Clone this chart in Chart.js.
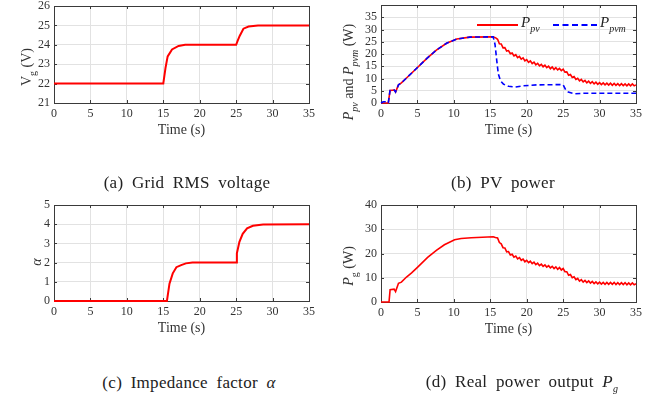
<!DOCTYPE html>
<html>
<head>
<meta charset="utf-8">
<script src="https://cdn.jsdelivr.net/npm/chart.js@4.4.1/dist/chart.umd.min.js"></script>
<style>
  body { margin:0; background:#fff; width:661px; height:401px; position:relative; overflow:hidden; font-family:"Liberation Serif", "Times New Roman", Times, serif; color:#222; }
  canvas { position:absolute; }
  .lbl { position:absolute; white-space:nowrap; font-size:14px; color:#333; transform:translate(-50%,-50%) rotate(-90deg); }
  .cap { position:absolute; white-space:nowrap; font-size:17px; transform:translate(-50%,-50%); word-spacing:4px; letter-spacing:0.3px; }
  .leg { position:absolute; white-space:nowrap; font-size:15px; color:#222; }
  .sw { position:absolute; height:0; }
  sub { font-size:10px; vertical-align:-5px; }
</style>
</head>
<body>
<canvas id="chart-a"></canvas>
<canvas id="chart-b"></canvas>
<canvas id="chart-c"></canvas>
<canvas id="chart-d"></canvas>

<!-- 축 제목 (아래첨자 때문에 HTML로) -->
<div class="lbl" style="left:28px;top:67px">V<sub>g</sub> (V)</div>
<div class="lbl" style="left:350px;top:72px"><i>P</i><sub><i>pv</i></sub> and <i>P</i><sub><i>pvm</i></sub> (W)</div>
<div class="lbl" style="left:37px;top:262px"><i>α</i></div>
<div class="lbl" style="left:350px;top:266px"><i>P</i><sub>g</sub> (W)</div>

<!-- (b) 범례 -->
<div class="sw" style="left:477px;top:24px;width:41px;border-top:2px solid #ff0000"></div>
<div class="leg" style="left:521px;top:14px"><i>P</i><sub><i>pv</i></sub></div>
<div class="sw" style="left:553px;top:24px;width:44px;border-top:2px dashed #0000ff"></div>
<div class="leg" style="left:600px;top:14px"><i>P</i><sub><i>pvm</i></sub></div>

<!-- 캡션 -->
<div class="cap" style="left:187px;top:183px">(a) Grid RMS voltage</div>
<div class="cap" style="left:503px;top:183px">(b) PV power</div>
<div class="cap" style="left:189px;top:383px">(c) Impedance factor <i>α</i></div>
<div class="cap" style="left:522px;top:383px">(d) Real power output <i>P</i><sub><i>g</i></sub></div>

<script>
// 그림에서 읽은 값들

// (a) 계통 RMS 전압
const vgTime = [0, 15, 15.3, 15.6, 16.2, 17.1, 18, 25, 25.2, 25.5, 26, 26.7, 28, 35];
const vgVal  = [22, 22, 22.8, 23.4, 23.76, 23.94, 24, 24, 24.2, 24.47, 24.83, 24.94, 25, 25];

// (b) PV 출력 (16초 이후는 리플 포함)
const ppvTime = [0, 1.0, 1.24, 1.83, 2.0, 2.4, 2.8, 3.5, 4.9, 6.3, 7.6, 9.0, 10.4, 12.2, 15.4, 15.75,
  16, 16.25, 16.5, 16.75, 17, 17.25, 17.5, 17.75, 18, 18.25, 18.5, 18.75, 19, 19.25, 19.5, 19.75,
  20, 20.25, 20.5, 20.75, 21, 21.25, 21.5, 21.75, 22, 22.25, 22.5, 22.75, 23, 23.25, 23.5, 23.75,
  24, 24.25, 24.5, 24.75, 25, 25.25, 25.5, 25.75, 26, 26.25, 26.5, 26.75, 27, 27.25, 27.5, 27.75,
  28, 28.25, 28.5, 28.75, 29, 29.25, 29.5, 29.75, 30, 30.25, 30.5, 30.75, 31, 31.25, 31.5, 31.75,
  32, 32.25, 32.5, 32.75, 33, 33.25, 33.5, 33.75, 34, 34.25, 34.5, 34.75, 35];
const ppvVal  = [0, 0, 5.1, 5.3, 4.5, 7.4, 8.2, 10.2, 14.2, 18.2, 21.6, 24.4, 26.1, 26.9, 27.0, 26.6,
  26.0, 24.2, 24.1, 22.5, 22.6, 21.2, 21.4, 20.1, 20.4, 19.2, 19.7, 18.5, 19.0, 17.9, 18.4, 17.2,
  17.7, 16.6, 17.2, 16.1, 16.7, 15.6, 16.2, 15.2, 15.8, 14.8, 15.4, 14.4, 15.0, 14.0, 14.7, 13.7,
  14.4, 13.5, 14.1, 13.2, 13.8, 12.6, 12.7, 11.3, 11.6, 10.4, 10.8, 9.6, 10.1, 9.0, 9.6, 8.6,
  9.2, 8.2, 8.9, 8.0, 8.7, 7.8, 8.5, 7.6, 8.3, 7.5, 8.2, 7.4, 8.1, 7.3, 8.1, 7.2,
  8.0, 7.2, 7.9, 7.1, 7.9, 7.1, 7.8, 7.0, 7.8, 7.0, 7.8, 7.0, 7.4];
const pvmTime = [0, 0.3, 0.6, 1.0, 1.24, 1.83, 2.0, 2.4, 2.8, 3.5, 4.9, 6.3, 7.6, 9.0, 10.4, 12.2, 15.4, 15.65, 15.9, 16.1, 16.4, 16.8, 17.5, 18.4, 19.5, 21.4, 24.6, 25.0, 25.4, 25.7, 26.6, 27.8, 35];
const pvmVal  = [0, 0.5, 0.5, 0, 5.1, 5.3, 4.5, 7.4, 8.2, 10.2, 14.2, 18.2, 21.6, 24.4, 26.1, 26.9, 27.0, 23.9, 17.0, 11.9, 9.1, 7.7, 6.8, 6.5, 7.0, 7.4, 7.5, 7.4, 5.1, 4.5, 3.75, 4.0, 4.0];

// (c) 임피던스 계수 alpha
const alphaTime = [0, 15.5, 15.85, 16.3, 16.8, 17.45, 18.1, 19, 25, 25.1, 25.45, 25.9, 26.5, 27.3, 28.7, 35];
const alphaVal  = [0, 0, 0.9, 1.44, 1.76, 1.87, 1.96, 2, 2, 2.48, 3.08, 3.5, 3.78, 3.92, 3.99, 4];

// (d) 유효전력 출력 (16초 이후는 리플 포함)
const pgTime = [0, 1.1, 1.25, 1.8, 2.0, 2.4, 2.8, 3.5, 4.2, 5, 6.4, 7.6, 8.7, 10.1, 11, 12.4, 15.4, 15.7,
  16, 16.25, 16.5, 16.75, 17, 17.25, 17.5, 17.75, 18, 18.25, 18.5, 18.75, 19, 19.25, 19.5, 19.75,
  20, 20.25, 20.5, 20.75, 21, 21.25, 21.5, 21.75, 22, 22.25, 22.5, 22.75, 23, 23.25, 23.5, 23.75,
  24, 24.25, 24.5, 24.75, 25, 25.25, 25.5, 25.75, 26, 26.25, 26.5, 26.75, 27, 27.25, 27.5, 27.75,
  28, 28.25, 28.5, 28.75, 29, 29.25, 29.5, 29.75, 30, 30.25, 30.5, 30.75, 31, 31.25, 31.5, 31.75,
  32, 32.25, 32.5, 32.75, 33, 33.25, 33.5, 33.75, 34, 34.25, 34.5, 34.75, 35];
const pgVal  = [0, 0, 5.1, 5.3, 4.3, 7.7, 8.2, 10.3, 12.0, 14.3, 18.4, 21.3, 23.6, 25.7, 26.2, 26.5, 26.9, 26.6,
  26.4, 24.5, 24.0, 22.4, 22.3, 20.7, 20.8, 19.4, 19.7, 18.5, 18.9, 17.8, 18.3, 17.2, 17.7, 16.6,
  17.2, 16.2, 16.8, 15.8, 16.4, 15.4, 16.0, 15.0, 15.6, 14.7, 15.3, 14.4, 15.0, 14.1, 14.7, 13.8,
  14.5, 13.5, 14.2, 13.2, 13.8, 12.5, 12.5, 11.0, 11.3, 10.0, 10.4, 9.2, 9.7, 8.6, 9.2, 8.2,
  8.9, 8.0, 8.7, 7.8, 8.5, 7.6, 8.3, 7.5, 8.2, 7.4, 8.1, 7.3, 8.1, 7.3, 8.1, 7.3,
  8.1, 7.2, 8.0, 7.2, 8.0, 7.2, 8.0, 7.1, 7.9, 7.1, 7.9, 7.1, 7.5];

// 축 눈금
const timeTicks = [0, 5, 10, 15, 20, 25, 30, 35];

const FONT = '"Liberation Serif", "Times New Roman", serif';

function toPoints(t, v) {
  return t.map((x, i) => ({ x: x, y: v[i] }));
}

// MATLAB 스타일 박스와 안쪽 눈금
const boxPlugin = {
  id: 'box',
  beforeDatasetsDraw(chart) {
    const { ctx, chartArea: a, scales } = chart;
    ctx.save();
    ctx.strokeStyle = '#3a3a3a';
    ctx.lineWidth = 1;
    ctx.beginPath();
    scales.x.ticks.forEach(tk => {
      const px = Math.round(scales.x.getPixelForValue(tk.value)) + 0.5;
      ctx.moveTo(px, a.bottom); ctx.lineTo(px, a.bottom - 3);
      ctx.moveTo(px, a.top); ctx.lineTo(px, a.top + 3);
    });
    scales.y.ticks.forEach(tk => {
      const py = Math.round(scales.y.getPixelForValue(tk.value)) + 0.5;
      ctx.moveTo(a.left, py); ctx.lineTo(a.left + 3, py);
      ctx.moveTo(a.right, py); ctx.lineTo(a.right - 3, py);
    });
    ctx.stroke();
    ctx.strokeRect(Math.round(a.left) + 0.5, Math.round(a.top) + 0.5, Math.round(a.right - a.left), Math.round(a.bottom - a.top));
    ctx.restore();
  }
};

function drawPanel(id, box, datasets, yMin, yMax, yStep, hideTop) {
  const cv = document.getElementById(id);
  cv.width = box.r - box.l + 80;
  cv.height = box.b - box.t + 60;
  cv.style.left = (box.l - 60) + 'px';
  cv.style.top = (box.t - 20) + 'px';

  return new Chart(cv.getContext('2d'), {
    type: 'line',
    data: { datasets: datasets },
    options: {
      responsive: false,
      animation: false,
      layout: { padding: { left: 20, top: 20, right: 20, bottom: 20 } },
      elements: { point: { radius: 0 }, line: { tension: 0 } },
      plugins: { legend: { display: false }, tooltip: { enabled: false } },
      scales: {
        x: {
          type: 'linear', min: 0, max: 35,
          afterBuildTicks: s => { s.ticks = timeTicks.map(v => ({ value: v })); },
          afterFit: s => { s.height = 40; },
          border: { display: false },
          grid: { color: '#e2e2e2', drawTicks: false },
          ticks: { padding: 4, autoSkip: false, maxRotation: 0, color: '#333', font: { family: FONT, size: 12 } },
          title: { display: true, text: 'Time (s)', color: '#333', font: { family: FONT, size: 14 }, padding: { top: 0, bottom: 4 } }
        },
        y: {
          type: 'linear', min: yMin, max: yMax,
          afterFit: s => { s.width = 40; },
          border: { display: false },
          grid: { color: '#e2e2e2', drawTicks: false },
          ticks: {
            stepSize: yStep, autoSkip: false, padding: 4, color: '#333', font: { family: FONT, size: 12 },
            callback: v => (hideTop && v === yMax) ? '' : v
          }
        }
      }
    },
    plugins: [boxPlugin]
  });
}

const red = { borderColor: '#ff0000', borderWidth: 1.6, clip: 2, order: 1 };

function drawAll() {
  drawPanel('chart-a', { l: 54, t: 6, r: 309, b: 123 },
    [Object.assign({ label: 'Vg', data: toPoints(vgTime, vgVal) }, red, { borderWidth: 2 })], 21, 26, 1, false);

  drawPanel('chart-b', { l: 381, t: 5, r: 636, b: 123 }, [
    Object.assign({ label: 'Ppv', data: toPoints(ppvTime, ppvVal) }, red),
    { label: 'Ppvm', data: toPoints(pvmTime, pvmVal), borderColor: '#0000ff', borderWidth: 1.6, borderDash: [5, 3], clip: 2, order: 0 }
  ], 0, 40, 5, true);

  drawPanel('chart-c', { l: 54, t: 205, r: 309, b: 321 },
    [Object.assign({ label: 'alpha', data: toPoints(alphaTime, alphaVal) }, red, { borderWidth: 2 })], 0, 5, 1, false);

  drawPanel('chart-d', { l: 381, t: 205, r: 636, b: 322 },
    [Object.assign({ label: 'Pg', data: toPoints(pgTime, pgVal) }, red)], 0, 40, 10, false);
}

// 폰트 로딩 후 그리기
document.fonts.load('12px "Liberation Serif"').then(drawAll, drawAll);
</script>
</body>
</html>
